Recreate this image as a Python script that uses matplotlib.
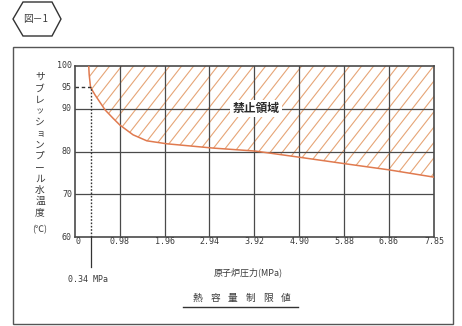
import numpy as np
import matplotlib
matplotlib.use("Agg")
import matplotlib.pyplot as plt
from matplotlib.patches import Polygon, Rectangle
from matplotlib.lines import Line2D

plt.rcParams['font.family'] = ['Noto Sans CJK JP', 'DejaVu Sans']

# heat capacity limit curve (reactor pressure vs. pool temperature)
pressure = [0.30, 0.31, 0.34, 0.44, 0.66, 0.83, 0.98, 1.27, 1.57, 2.01, 3.02,
            3.94, 4.88, 5.93, 6.87, 7.85]
temperature = [100.0, 98.0, 95.0, 93.2, 89.7, 87.8, 86.2, 83.9, 82.5, 81.8,
               80.8, 80.1, 78.7, 77.1, 75.7, 74.0]

x_ticks = [0.98, 1.96, 2.94, 3.92, 4.90, 5.88, 6.86, 7.85]
x_tick_labels = ["0.98", "1.96", "2.94", "3.92", "4.90", "5.88", "6.86", "7.85"]
y_ticks = [60, 70, 80, 90, 95, 100]
y_grid = [70, 80, 90]
p_mark, t_mark = 0.34, 95

ylabel_chars = list("サブレッションプール水温度")
title_chars = list("熱容量制限値")

W, H = 462, 326
fig = plt.figure(figsize=(W / 100, H / 100), dpi=100)
fig.patch.set_facecolor("white")

def fx(x):
    return x / W

def fy(y):
    return 1 - y / H

gray = "#4a4a4a"
text_c = "#3a3a3a"
mono = "DejaVu Sans Mono"

ax_l, ax_r, ax_t, ax_b = 75, 434, 66, 237
ax = fig.add_axes([fx(ax_l), fy(ax_b), (ax_r - ax_l) / W, (ax_b - ax_t) / H])
ax.set_xlim(0, 7.85)
ax.set_ylim(60, 100)
ax.set_xticks([])
ax.set_yticks([])
for s in ax.spines.values():
    s.set_color(gray)
    s.set_linewidth(1.2)

# grid
for xv in x_ticks[:-1]:
    ax.axvline(xv, color=gray, lw=0.9, zorder=2)
for yv in y_grid:
    ax.axhline(yv, color=gray, lw=0.9, zorder=2)

# forbidden region: hatched area above the curve
verts = list(zip(pressure, temperature)) + [(7.85, 100), (pressure[0], 100)]
region = Polygon(verts, closed=True, facecolor="none", edgecolor="none",
                 transform=ax.transData)
ax.add_patch(region)
hatch_c = "#e6a577"
px_per_x = (ax_r - ax_l) / 7.85
px_per_y = (ax_b - ax_t) / 40
slope = np.tan(np.radians(52)) * px_per_x / px_per_y
step = 12 / px_per_x
for c in np.arange(-4.0, 9.0, step):
    ln, = ax.plot([c, c + 40 / slope], [60, 100], color=hatch_c, lw=0.8, zorder=1)
    ln.set_clip_path(region)

ax.plot(pressure, temperature, color="#e07a4f", lw=1.1, zorder=3)

# 0.34 MPa / 95 degC marker lines
ax.plot([p_mark, p_mark], [60, t_mark], color="#333333", lw=1.0,
        linestyle=(0, (1.2, 1.2)), zorder=3)
ax.plot([0, p_mark], [t_mark, t_mark], color="#333333", lw=1.0,
        linestyle=(0, (2.5, 2)), zorder=3)
fig.add_artist(Line2D([fx(ax_l + p_mark * px_per_x)] * 2, [fy(ax_b), fy(267)],
                      transform=fig.transFigure, color="#333333", lw=0.9))
fig.text(fx(88), fy(279), "0.34 MPa", ha="center", va="center",
         fontsize=6, family=mono, color=text_c)

ax.text(3.96, 90, "禁止領域", ha="center", va="center", fontsize=8.5,
        fontweight="bold", color="#2a2a2a", zorder=5,
        bbox=dict(facecolor="white", edgecolor="none", pad=1.5))

# tick labels
for yv in y_ticks:
    fig.text(fx(72), fy(ax_b - (yv - 60) * px_per_y), str(yv), ha="right",
             va="center", fontsize=6, family=mono, color=text_c)
fig.text(fx(ax_l + 1), fy(242), "0", ha="left", va="center",
         fontsize=6, family=mono, color=text_c)
for xv, lab in zip(x_ticks, x_tick_labels):
    fig.text(fx(ax_l + xv * px_per_x), fy(242), lab, ha="center", va="center",
             fontsize=6, family=mono, color=text_c)

# vertical y label
for i, ch in enumerate(ylabel_chars):
    small = ch in "ッョ"
    fig.text(fx(40), fy(77 + i * 11.3), ch, ha="center", va="center",
             fontsize=6 if small else 7, color=text_c)
fig.text(fx(40), fy(230), "(℃)", ha="center", va="center", fontsize=6.5,
         color=text_c)

fig.text(fx(248), fy(272), "原子炉圧力(MPa)", ha="center", va="center",
         fontsize=6.5, color=text_c)

# caption, spaced out and underlined
for i, ch in enumerate(title_chars):
    fig.text(fx(197.5 + i * 17.7), fy(298), ch, ha="center", va="center",
             fontsize=7, color=text_c)
fig.add_artist(Line2D([fx(183), fx(298)], [fy(307), fy(307)],
                      transform=fig.transFigure, color="#333333", lw=1.0))

# outer frame
fig.add_artist(Rectangle((fx(13), fy(324)), fx(453) - fx(13), fy(47.5) - fy(324),
                         transform=fig.transFigure, facecolor="none",
                         edgecolor="#555555", lw=1.0))

# figure number badge
hexagon = [(13, 19), (23, 2), (52, 2), (61, 19), (52, 36), (23, 36)]
fig.add_artist(Polygon([(fx(a), fy(b)) for a, b in hexagon], closed=True,
                       transform=fig.transFigure, facecolor="none",
                       edgecolor="#333333", lw=1.0))
fig.text(fx(36), fy(19), "図－1", ha="center", va="center", fontsize=7,
         color=text_c)

fig.savefig("out.png", dpi=100)
